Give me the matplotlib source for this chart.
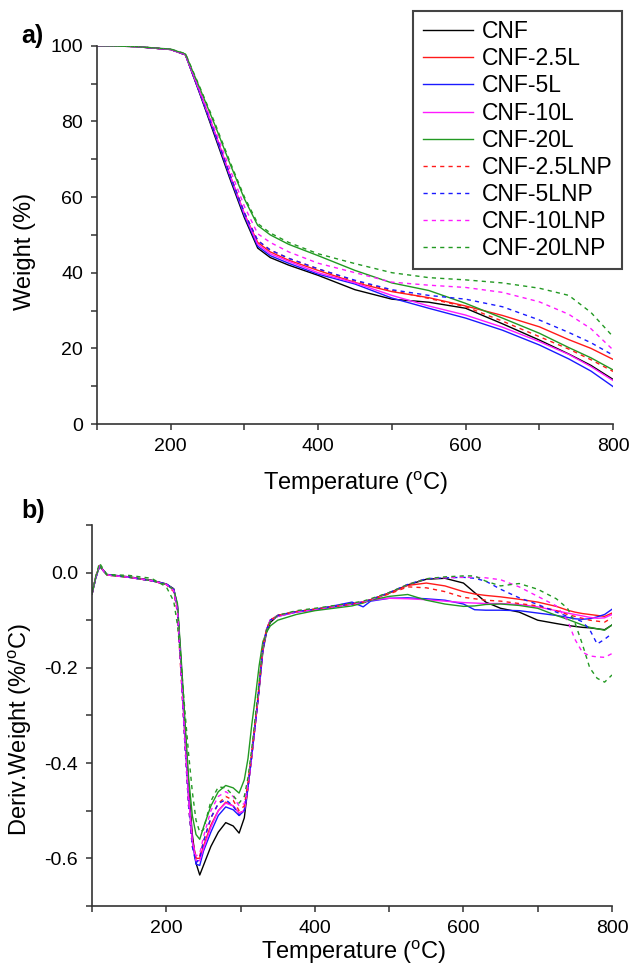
import numpy as np
import matplotlib
matplotlib.use("Agg")
import matplotlib.pyplot as plt
from matplotlib.ticker import MultipleLocator

plt.rcParams['font.family'] = ['Liberation Sans', 'DejaVu Sans']
plt.rcParams['mathtext.fontset'] = 'custom'
plt.rcParams['mathtext.rm'] = 'Liberation Sans'
plt.rcParams['axes.unicode_minus'] = False

# ---- data: a) TGA ----
labels = ['CNF', 'CNF-2.5L', 'CNF-5L', 'CNF-10L', 'CNF-20L',
          'CNF-2.5LNP', 'CNF-5LNP', 'CNF-10LNP', 'CNF-20LNP']
colors = ['black', '#ff1a1a', '#1a1aff', '#ff1aff', '#229922',
          '#ff1a1a', '#1a1aff', '#ff1aff', '#229922']
styles = ['-', '-', '-', '-', '-', '--', '--', '--', '--']

temp_tga = [100, 150, 200, 220, 240, 260, 280, 300, 318, 335, 360, 400,
            450, 500, 550, 600, 650, 700, 740, 770, 800]

w_cnf = [100, 99.8, 99.0, 97.6, 87, 76, 65, 54.5, 46.5, 44.0, 42.0, 39.3,
         35.5, 33.0, 32.2, 30.6, 26.5, 22.2, 18.5, 15.5, 11.8]
w_25l = [100, 99.8, 99.0, 97.6, 87.5, 77, 66, 55.5, 48.0, 45.5, 43.3, 40.6,
         37.4, 35.0, 33.4, 31.2, 28.7, 25.7, 22.3, 20.0, 17.1]
w_5l = [100, 99.8, 99.0, 97.6, 87.2, 76.5, 65.5, 55.0, 47.0, 44.5, 42.5, 39.6,
        37.0, 33.3, 30.6, 28.0, 24.8, 20.9, 17.2, 14.0, 9.9]
w_10l = [100, 99.8, 99.0, 97.6, 87.5, 77, 66, 55.5, 47.5, 45.0, 43.0, 40.0,
         37.3, 34.0, 31.2, 28.8, 25.6, 21.8, 18.4, 15.2, 11.5]
w_20l = [100, 99.8, 99.1, 97.8, 88.5, 79, 69, 59.5, 52.5, 50.0, 47.5, 44.5,
         40.6, 37.3, 35.3, 31.9, 28.0, 24.0, 20.2, 17.5, 14.3]
w_25lnp = [100, 99.8, 99.0, 97.6, 87.3, 76.8, 66, 55.8, 48.5, 46.0, 43.8, 41.0,
           37.8, 35.3, 33.2, 31.0, 27.2, 23.1, 19.8, 17.0, 13.9]
w_5lnp = [100, 99.8, 99.0, 97.6, 87.3, 76.8, 66, 55.8, 48.5, 46.0, 43.8, 41.0,
          38.0, 35.5, 34.0, 33.0, 31.0, 27.5, 24.2, 21.5, 18.2]
w_10lnp = [100, 99.8, 99.0, 97.7, 87.8, 77.8, 67.5, 57.5, 50.3, 48.0, 45.5, 42.5,
           40.0, 37.5, 36.7, 36.1, 34.8, 32.3, 29.0, 25.2, 19.6]
w_20lnp = [100, 99.8, 99.1, 97.9, 88.8, 79.5, 69.5, 60.0, 53.0, 50.5, 48.0, 45.0,
           42.4, 40.0, 38.7, 38.1, 37.3, 35.9, 34.0, 29.5, 23.1]

# ---- data: b) DTG ----
temp_dtg = [100, 105, 110, 120, 150, 180, 200, 210, 215, 220, 225, 230, 235,
            240, 245, 250, 260, 270, 280, 290, 298, 305, 310, 315, 320, 325,
            330, 335, 340, 350, 375, 400, 450, 465, 475, 500, 525, 550, 575,
            600, 615, 630, 650, 675, 700, 725, 740, 750, 760, 770, 780, 790, 800]

d_cnf = [-0.045, -0.01, 0.015, -0.004, -0.009, -0.016, -0.024, -0.034,
         -0.07, -0.19, -0.32, -0.45, -0.55, -0.61, -0.635, -0.615, -0.575,
         -0.545, -0.525, -0.532, -0.547, -0.515, -0.45, -0.385, -0.315, -0.245,
         -0.165, -0.125, -0.105, -0.09, -0.082, -0.077, -0.066, -0.062, -0.057,
         -0.043, -0.026, -0.014, -0.012, -0.022, -0.042, -0.062, -0.075, -0.083,
         -0.1, -0.107, -0.111, -0.113, -0.115, -0.116, -0.118, -0.12, -0.11]
d_25l = [-0.045, -0.01, 0.014, -0.005, -0.01, -0.017, -0.025, -0.036,
         -0.075, -0.2, -0.34, -0.47, -0.56, -0.6, -0.6, -0.575, -0.53,
         -0.5, -0.482, -0.49, -0.505, -0.5, -0.45, -0.385, -0.315, -0.24,
         -0.16, -0.12, -0.1, -0.09, -0.082, -0.077, -0.066, -0.062, -0.057,
         -0.043, -0.027, -0.022, -0.028, -0.04, -0.045, -0.048, -0.051, -0.056,
         -0.062, -0.071, -0.079, -0.083, -0.086, -0.088, -0.09, -0.092, -0.085]
d_5l = [-0.045, -0.012, 0.013, -0.004, -0.01, -0.017, -0.024, -0.035,
        -0.072, -0.2, -0.34, -0.47, -0.565, -0.612, -0.615, -0.585, -0.545,
        -0.51, -0.492, -0.498, -0.51, -0.5, -0.45, -0.385, -0.315, -0.24,
        -0.16, -0.12, -0.1, -0.092, -0.083, -0.078, -0.062, -0.072, -0.06,
        -0.054, -0.053, -0.055, -0.058, -0.066, -0.078, -0.079, -0.079, -0.08,
        -0.085, -0.09, -0.094, -0.097, -0.098, -0.097, -0.093, -0.088, -0.077]
d_10l = [-0.045, -0.01, 0.014, -0.005, -0.01, -0.017, -0.025, -0.036,
         -0.075, -0.2, -0.34, -0.47, -0.565, -0.605, -0.605, -0.58, -0.535,
         -0.5, -0.484, -0.49, -0.505, -0.5, -0.45, -0.385, -0.315, -0.24,
         -0.16, -0.12, -0.1, -0.092, -0.083, -0.078, -0.066, -0.061, -0.058,
         -0.054, -0.055, -0.057, -0.06, -0.063, -0.064, -0.065, -0.065, -0.067,
         -0.072, -0.08, -0.085, -0.088, -0.091, -0.094, -0.096, -0.095, -0.088]
d_20l = [-0.045, -0.01, 0.014, -0.005, -0.01, -0.017, -0.025, -0.036,
         -0.065, -0.18, -0.31, -0.43, -0.51, -0.55, -0.56, -0.535, -0.49,
         -0.46, -0.447, -0.452, -0.463, -0.435, -0.39, -0.32, -0.26, -0.195,
         -0.145, -0.125, -0.112, -0.1, -0.088, -0.08, -0.07, -0.064, -0.058,
         -0.05, -0.046, -0.058, -0.066, -0.071, -0.07, -0.067, -0.066, -0.069,
         -0.075, -0.09, -0.098, -0.104, -0.11, -0.115, -0.118, -0.121, -0.11]
d_25lnp = [-0.045, -0.01, 0.014, -0.005, -0.01, -0.017, -0.025, -0.04,
           -0.085, -0.22, -0.36, -0.49, -0.575, -0.6, -0.595, -0.565, -0.515,
           -0.485, -0.47, -0.478, -0.5, -0.49, -0.44, -0.38, -0.31, -0.235,
           -0.155, -0.118, -0.1, -0.09, -0.082, -0.077, -0.066, -0.062, -0.057,
           -0.045, -0.03, -0.032, -0.04, -0.052, -0.055, -0.058, -0.06, -0.065,
           -0.07, -0.08, -0.088, -0.092, -0.096, -0.1, -0.102, -0.104, -0.095]
d_5lnp = [-0.045, -0.012, 0.013, -0.004, -0.01, -0.017, -0.024, -0.036,
          -0.08, -0.21, -0.36, -0.49, -0.575, -0.61, -0.6, -0.565, -0.515,
          -0.485, -0.477, -0.49, -0.51, -0.5, -0.45, -0.385, -0.315, -0.24,
          -0.16, -0.12, -0.1, -0.09, -0.082, -0.077, -0.066, -0.062, -0.057,
          -0.042, -0.025, -0.013, -0.011, -0.01, -0.012, -0.018, -0.035, -0.053,
          -0.067, -0.083, -0.092, -0.097, -0.103, -0.12, -0.15, -0.14, -0.128]
d_10lnp = [-0.045, -0.01, 0.014, -0.005, -0.01, -0.017, -0.025, -0.038,
           -0.08, -0.21, -0.35, -0.48, -0.565, -0.595, -0.59, -0.555, -0.5,
           -0.47, -0.46, -0.47, -0.49, -0.485, -0.44, -0.38, -0.31, -0.235,
           -0.155, -0.118, -0.1, -0.09, -0.082, -0.077, -0.066, -0.062, -0.057,
           -0.042, -0.025, -0.013, -0.011, -0.01, -0.01, -0.011, -0.015, -0.03,
           -0.05, -0.07, -0.1, -0.14, -0.167, -0.175, -0.177, -0.178, -0.17]
d_20lnp = [-0.045, -0.008, 0.02, -0.004, -0.006, -0.012, -0.03, -0.06,
           -0.11, -0.19, -0.29, -0.38, -0.46, -0.52, -0.545, -0.54, -0.48,
           -0.45, -0.452, -0.468, -0.484, -0.47, -0.43, -0.37, -0.3, -0.23,
           -0.155, -0.12, -0.103, -0.09, -0.08, -0.075, -0.064, -0.06, -0.055,
           -0.042, -0.025, -0.013, -0.009, -0.007, -0.007, -0.018, -0.028, -0.023,
           -0.035, -0.055, -0.075, -0.105, -0.15, -0.2, -0.222, -0.23, -0.215]

tga = [w_cnf, w_25l, w_5l, w_10l, w_20l, w_25lnp, w_5lnp, w_10lnp, w_20lnp]
dtg = [d_cnf, d_25l, d_5l, d_10l, d_20l, d_25lnp, d_5lnp, d_10lnp, d_20lnp]

fig = plt.figure(figsize=(6.32, 9.77), dpi=100)
ax1 = fig.add_axes([0.1535, 0.566, 0.8165, 0.3872])
ax2 = fig.add_axes([0.1456, 0.0727, 0.8228, 0.39])


def style_axis(ax):
    for s in ['top', 'right']:
        ax.spines[s].set_visible(False)
    for s in ['left', 'bottom']:
        ax.spines[s].set_color('#333333')
        ax.spines[s].set_linewidth(1.2)
    ax.tick_params(which='both', direction='out', length=4, width=1.1,
                   color='#333333', labelsize=14, pad=6)
    ax.xaxis.set_major_locator(MultipleLocator(200))
    ax.xaxis.set_minor_locator(MultipleLocator(100))
    ax.set_xlim(100, 800)


for w, c, ls, lab in zip(tga, colors, styles, labels):
    ax1.plot(temp_tga, w, color=c, lw=1.0, label=lab,
             linestyle=ls if ls == '-' else (0, (3, 3)))
style_axis(ax1)
ax1.set_ylim(0, 100)
ax1.yaxis.set_major_locator(MultipleLocator(20))
ax1.yaxis.set_minor_locator(MultipleLocator(10))

for d, c, ls in zip(dtg, colors, styles):
    ax2.plot(temp_dtg, d, color=c, lw=1.0,
             linestyle=ls if ls == '-' else (0, (3, 3)))
style_axis(ax2)
ax2.set_ylim(-0.7, 0.1)
ax2.set_yticks([-0.6, -0.4, -0.2, 0.0])
ax2.set_yticklabels(['-0.6', '-0.4', '-0.2', '0.0'])
ax2.yaxis.set_minor_locator(MultipleLocator(0.1))

leg = ax1.legend(loc='upper right', bbox_to_anchor=(622 / 632, 1 - 11 / 977),
                 bbox_transform=fig.transFigure, borderaxespad=0,
                 fontsize=16.5, frameon=True, fancybox=False, framealpha=1,
                 labelspacing=0.18, handlelength=2.2, handletextpad=0.4,
                 borderpad=0.4)
leg.get_frame().set_edgecolor('#444444')
leg.get_frame().set_linewidth(1.5)

fig.text(24.5 / 632, 1 - 251 / 977, 'Weight (%)', rotation=90,
         ha='center', va='center', fontsize=17)
fig.text(356 / 632, 1 - 483 / 977, 'Temperature ($\\mathregular{^o}$C)',
         ha='center', va='center', fontsize=17)
fig.text(20 / 632, 1 - 730 / 977, 'Deriv.Weight (%/$\\mathregular{^o}$C)',
         rotation=90, ha='center', va='center', fontsize=17)
fig.text(354 / 632, 1 - 952 / 977, 'Temperature ($\\mathregular{^o}$C)',
         ha='center', va='center', fontsize=17)
fig.text(21 / 632, 1 - 36 / 977, 'a)', ha='left', va='center',
         fontsize=18, fontweight='bold')
fig.text(21 / 632, 1 - 511 / 977, 'b)', ha='left', va='center',
         fontsize=18, fontweight='bold')

fig.savefig('out.png', dpi=100)
